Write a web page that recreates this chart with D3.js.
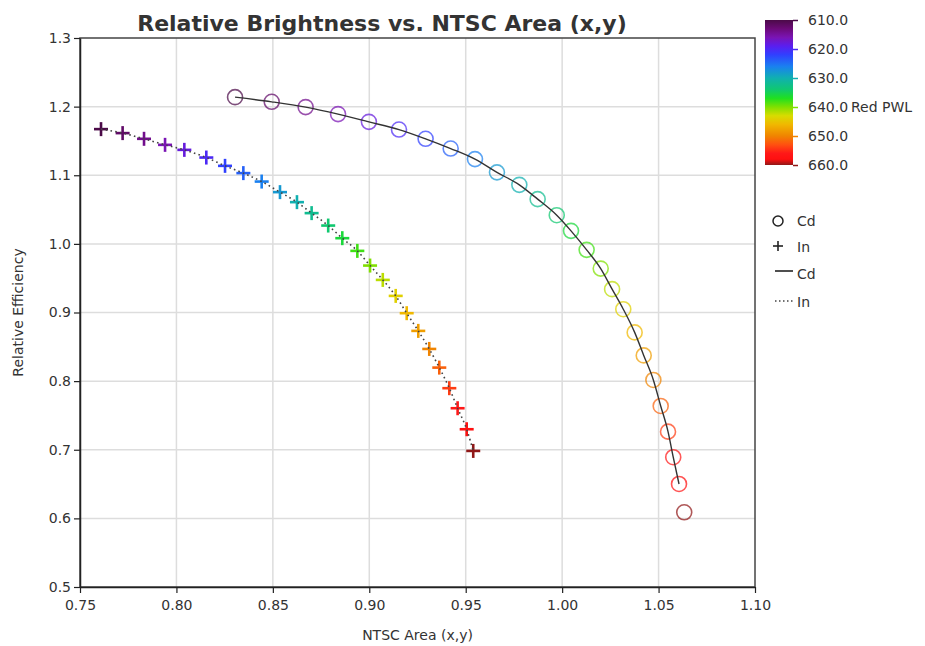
<!DOCTYPE html>
<html>
<head>
<meta charset="utf-8">
<script src="https://cdn.jsdelivr.net/npm/d3@7"></script>
<style>
  body { margin: 0; background: #fff; }
  text { font-family: "DejaVu Sans", sans-serif; fill: #333; }
</style>
</head>
<body>
<div id="chart"></div>
<script>
// wavelength (nm) of each point, same for both series
const wavelengths = d3.range(610, 661, 2);

const cdArea = [0.8304, 0.8494, 0.8670, 0.8838, 0.8998, 0.9154, 0.9292, 0.9422, 0.9548, 0.9662,
    0.9778, 0.9873, 0.9972, 1.0046, 1.0127, 1.0200, 1.0259, 1.0317, 1.0376, 1.0423,
    1.0473, 1.0511, 1.0549, 1.0576, 1.0606, 1.0633];
const cdEff = [1.2138, 1.2070, 1.1993, 1.1891, 1.1778, 1.1666, 1.1531, 1.1389, 1.1235, 1.1042,
    1.0860, 1.0652, 1.0418, 1.0190, 0.9913, 0.9640, 0.9340, 0.9048, 0.8710, 0.8375,
    0.8017, 0.7638, 0.7264, 0.6891, 0.6501, 0.6089];

const inArea = [0.7609, 0.7721, 0.7832, 0.7941, 0.8041, 0.8155, 0.8252, 0.8347, 0.8442, 0.8537,
    0.8625, 0.8701, 0.8787, 0.8860, 0.8938, 0.9004, 0.9070, 0.9137, 0.9194, 0.9254,
    0.9311, 0.9363, 0.9415, 0.9458, 0.9505, 0.9539];
const inEff = [1.1672, 1.1614, 1.1531, 1.1443, 1.1370, 1.1258, 1.1137, 1.1031, 1.0908, 1.0754,
    1.0608, 1.0448, 1.0267, 1.0083, 0.9898, 0.9684, 0.9475, 0.9242, 0.8990, 0.8732,
    0.8469, 0.8197, 0.7897, 0.7605, 0.7299, 0.6983];

const xTicks = [0.75, 0.80, 0.85, 0.90, 0.95, 1.00, 1.05, 1.10];
const yTicks = [0.5, 0.6, 0.7, 0.8, 0.9, 1.0, 1.1, 1.2, 1.3];
const pwlTicks = [610, 620, 630, 640, 650, 660];

// colour map stops
const stopWl = [610, 613, 616, 619, 622, 626, 630, 634, 637, 640, 643, 646, 650, 653, 656, 658, 660];
const stopColors = ["#4b0a48", "#6c0a78", "#7a14b4", "#5a1ef0", "#3040ff", "#1a80f0", "#10b0b0", "#10c870",
    "#20e020", "#80e000", "#d8dc00", "#f0b800", "#f08400", "#ff5010", "#ff1818", "#ff1010", "#901818"];

const cdData = wavelengths.map((w, i) => ({ w: w, x: cdArea[i], y: cdEff[i] }));
const inData = wavelengths.map((w, i) => ({ w: w, x: inArea[i], y: inEff[i] }));

const W = 925, H = 646;
const svg = d3.select("#chart").append("svg").attr("width", W).attr("height", H);

const x = d3.scaleLinear().domain([0.75, 1.10]).range([80, 755]);
const y = d3.scaleLinear().domain([0.5, 1.3]).range([587, 38]);
const color = d3.scaleLinear().domain(stopWl).range(stopColors).interpolate(d3.interpolateRgb);

// grid
svg.append("g").selectAll("line").data(xTicks.slice(1, -1)).enter().append("line")
    .attr("x1", d => x(d)).attr("x2", d => x(d)).attr("y1", y(1.3)).attr("y2", y(0.5))
    .attr("stroke", "#dddddd").attr("stroke-width", 1.5);
svg.append("g").selectAll("line").data(yTicks.slice(1, -1)).enter().append("line")
    .attr("x1", x(0.75)).attr("x2", x(1.10)).attr("y1", d => y(d)).attr("y2", d => y(d))
    .attr("stroke", "#dddddd").attr("stroke-width", 1.5);

// frame
svg.append("rect")
    .attr("x", x(0.75)).attr("y", y(1.3))
    .attr("width", x(1.10) - x(0.75)).attr("height", y(0.5) - y(1.3))
    .attr("fill", "none").attr("stroke", "#444").attr("stroke-width", 1.5);

// axes
const xAxis = svg.append("g").attr("transform", "translate(0," + y(0.5) + ")")
    .call(d3.axisBottom(x).tickValues(xTicks).tickFormat(d3.format(".2f")).tickSize(6).tickSizeOuter(0));
const yAxis = svg.append("g").attr("transform", "translate(" + x(0.75) + ",0)")
    .call(d3.axisLeft(y).tickValues(yTicks).tickFormat(d3.format(".1f")).tickSize(6).tickSizeOuter(0));
[xAxis, yAxis].forEach(a => {
    a.select(".domain").attr("stroke", "#222").attr("stroke-width", 1.5);
    a.selectAll(".tick line").attr("stroke", "#222").attr("stroke-width", 1.2);
    a.selectAll(".tick text").style("font-family", "'DejaVu Sans', sans-serif").style("font-size", "14px").attr("fill", "#333");
});
xAxis.selectAll(".tick text").attr("dy", "1.0em");

// markers: Cd circles
svg.append("g").selectAll("circle").data(cdData).enter().append("circle")
    .attr("cx", d => x(d.x)).attr("cy", d => y(d.y)).attr("r", 7.5)
    .attr("fill", "none").attr("stroke", d => color(d.w)).attr("stroke-width", 1.6)
    .attr("stroke-opacity", 0.72);

// markers: In crosses
const crossG = svg.append("g").selectAll("g").data(inData).enter().append("g")
    .attr("transform", d => "translate(" + x(d.x) + "," + y(d.y) + ")");
crossG.append("line").attr("x1", -7).attr("x2", 7).attr("y1", 0).attr("y2", 0)
    .attr("stroke", d => color(d.w)).attr("stroke-width", 2.6);
crossG.append("line").attr("x1", 0).attr("x2", 0).attr("y1", -7).attr("y2", 7)
    .attr("stroke", d => color(d.w)).attr("stroke-width", 2.6);

// lines on top
const line = d3.line().x(d => x(d.x)).y(d => y(d.y)).curve(d3.curveMonotoneX);
svg.append("path").datum(cdData.slice(0, -1)).attr("d", line)
    .attr("fill", "none").attr("stroke", "#333").attr("stroke-width", 1.4);
svg.append("path").datum(inData).attr("d", line)
    .attr("fill", "none").attr("stroke", "#444").attr("stroke-width", 1.6)
    .attr("stroke-dasharray", "1.6,3.2");

// title and axis titles
svg.append("text").attr("x", 382).attr("y", 31).attr("text-anchor", "middle")
    .style("font-size", "22px").style("font-weight", "bold").attr("fill", "#111")
    .text("Relative Brightness vs. NTSC Area (x,y)");
svg.append("text").attr("x", x(0.925)).attr("y", 640).attr("text-anchor", "middle")
    .style("font-size", "14px").text("NTSC Area (x,y)");
svg.append("text").attr("transform", "translate(23," + y(0.9) + ") rotate(-90)")
    .attr("text-anchor", "middle").style("font-size", "14px").text("Relative Efficiency");

// colour bar
const cb = { x: 765, w: 28, top: 20, bottom: 165 };
const pwl = d3.scaleLinear().domain([610, 660]).range([cb.top, cb.bottom]);
const grad = svg.append("defs").append("linearGradient").attr("id", "pwlGrad")
    .attr("x1", 0).attr("x2", 0).attr("y1", 0).attr("y2", 1);
grad.selectAll("stop").data(stopWl).enter().append("stop")
    .attr("offset", d => (d - 610) / 50)
    .attr("stop-color", d => color(d));
svg.append("rect").attr("x", cb.x).attr("y", cb.top).attr("width", cb.w)
    .attr("height", cb.bottom - cb.top).attr("fill", "url(#pwlGrad)");
const cbAxis = svg.append("g").attr("transform", "translate(" + (cb.x + cb.w) + ",0)")
    .call(d3.axisRight(pwl).tickValues(pwlTicks).tickFormat(d3.format(".1f")).tickSize(5).tickPadding(10));
cbAxis.select(".domain").remove();
cbAxis.selectAll(".tick line").attr("stroke", d => color(d)).attr("stroke-width", 1.5);
cbAxis.selectAll(".tick text").style("font-family", "'DejaVu Sans', sans-serif").style("font-size", "14px").attr("fill", "#333");
svg.append("text").attr("x", 851).attr("y", pwl(640)).attr("dy", "0.35em")
    .style("font-size", "14px").text("Red PWL");

// legend
const lg = svg.append("g").attr("transform", "translate(770,0)");
lg.append("circle").attr("cx", 8).attr("cy", 221).attr("r", 5)
    .attr("fill", "none").attr("stroke", "#222").attr("stroke-width", 1.5);
lg.append("line").attr("x1", 3).attr("x2", 13).attr("y1", 246).attr("y2", 246).attr("stroke", "#222").attr("stroke-width", 1.6);
lg.append("line").attr("x1", 8).attr("x2", 8).attr("y1", 241).attr("y2", 251).attr("stroke", "#222").attr("stroke-width", 1.6);
lg.append("line").attr("x1", 5).attr("x2", 23).attr("y1", 271).attr("y2", 271).attr("stroke", "#222").attr("stroke-width", 1.6);
lg.append("line").attr("x1", 5).attr("x2", 23).attr("y1", 301).attr("y2", 301).attr("stroke", "#444").attr("stroke-width", 1.4)
    .attr("stroke-dasharray", "1.5,2.5");
const legendLabels = ["Cd", "In", "Cd", "In"];
const legendY = [221, 247, 274, 302];
lg.selectAll("text.lab").data(legendLabels).enter().append("text").attr("class", "lab")
    .attr("x", 27).attr("y", (d, i) => legendY[i]).attr("dy", "0.35em")
    .style("font-size", "14px").text(d => d);
</script>
</body>
</html>
